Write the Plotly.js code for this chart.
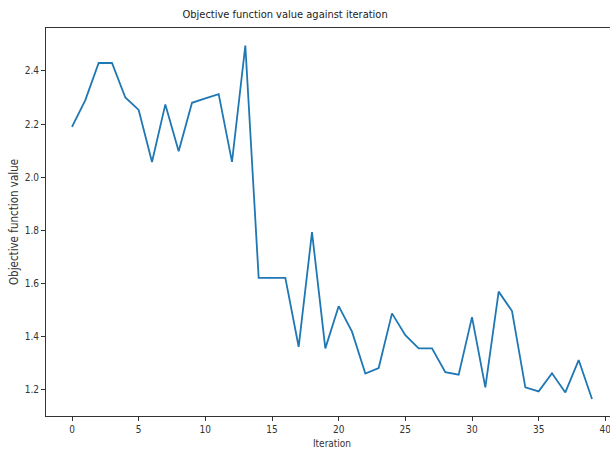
<!DOCTYPE html>
<html>
<head>
<meta charset="utf-8">
<script src="https://cdn.plot.ly/plotly-3.0.1.min.js"></script>
<style>
html, body { margin:0; padding:0; overflow:hidden; background:#fff; }
#chart { width:620px; height:450px; }
</style>
</head>
<body>
<div id="chart"></div>
<script>
const iterations = [0,1,2,3,4,5,6,7,8,9,10,11,12,13,14,15,16,17,18,19,20,21,22,23,24,25,26,27,28,29,30,31,32,33,34,35,36,37,38,39];
const objectiveValues = [2.189, 2.29, 2.43, 2.43, 2.30, 2.253, 2.057, 2.274, 2.097, 2.28,
  2.297, 2.313, 2.057, 2.496, 1.62, 1.62, 1.62, 1.36, 1.792, 1.354,
  1.513, 1.417, 1.259, 1.28, 1.486, 1.404, 1.354, 1.354, 1.264, 1.255,
  1.472, 1.207, 1.568, 1.495, 1.207, 1.192, 1.26, 1.188, 1.31, 1.163];
const xTicks = [0,5,10,15,20,25,30,35,40];
const yTicks = [1.2,1.4,1.6,1.8,2.0,2.2,2.4];
const yTickText = ['1.2','1.4','1.6','1.8','2.0','2.2','2.4'];

const font = 'DejaVu Sans Condensed, DejaVu Sans, sans-serif';
const trace = {
  x: iterations, y: objectiveValues, type:'scatter', mode:'lines',
  line:{color:'#1f77b4', width:1.8}, hoverinfo:'skip'
};
const axisCommon = {
  showline:true, linecolor:'#333', linewidth:1, mirror:true,
  ticks:'outside', ticklen:4, tickcolor:'#333', tickwidth:1,
  showgrid:false, zeroline:false,
  tickfont:{family:font, size:10, color:'#333'}
};
const layout = {
  width:620, height:450,
  margin:{l:46, r:2, t:28, b:34},
  paper_bgcolor:'#fff', plot_bgcolor:'#fff',
  showlegend:false,
  title:{text:'Objective function value against iteration', x:0.418, xref:'paper', xanchor:'center', y:1, yref:'container', yanchor:'top', pad:{t:10}, font:{family:font, size:11, color:'#222'}},
  xaxis:Object.assign({}, axisCommon, {range:[-1.95, 40.95], tickvals:xTicks, ticktext:xTicks.map(String),
    title:{text:'Iteration', standoff:5, font:{family:font, size:10, color:'#333'}}}),
  yaxis:Object.assign({}, axisCommon, {range:[1.099, 2.562], tickvals:yTicks, ticktext:yTickText,
    title:{text:'Objective function value', standoff:3, font:{family:font, size:11.5, color:'#333'}}})
};
Plotly.newPlot('chart', [trace], layout, {displayModeBar:false, staticPlot:true});
</script>
</body>
</html>
